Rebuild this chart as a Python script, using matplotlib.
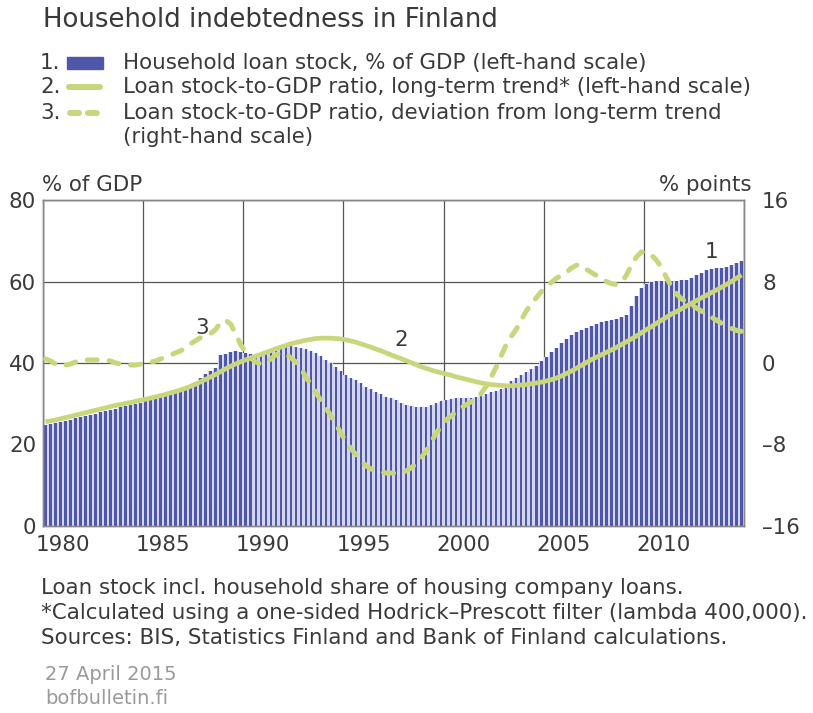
import numpy as np
import matplotlib
matplotlib.use("Agg")
import matplotlib.pyplot as plt
from matplotlib.lines import Line2D
from matplotlib.patches import Rectangle

# Quarterly data 1980Q1 - 2014Q4
loan_stock = [
    24.8, 25.0, 25.2, 25.5,  25.8, 26.1, 26.4, 26.7,  27.0, 27.3, 27.6, 27.9,
    28.2, 28.5, 28.8, 29.1,  29.4, 29.7, 30.0, 30.3,  30.7, 31.0, 31.3, 31.6,
    32.0, 32.5, 33.0, 33.5,  34.0, 34.6, 35.4, 36.3,  37.2, 38.0, 38.7, 42.0,
    42.3, 42.7, 42.9, 42.8,  42.5, 42.3, 42.2, 42.4,  42.8, 43.3, 43.8, 44.2,
    44.4, 44.3, 44.0, 43.8,  43.5, 43.0, 42.4, 41.6,  40.8, 40.0, 39.1, 38.1,
    37.1, 36.4, 35.8, 35.0,  34.2, 33.6, 33.0, 32.3,  31.7, 31.3, 30.9, 30.3,
    29.7, 29.4, 29.1, 29.1,  29.3, 29.6, 30.2, 30.6,  30.9, 31.1, 31.3, 31.3,
    31.3, 31.5, 31.7, 32.0,  32.4, 32.8, 33.2, 33.7,  34.2, 35.5, 36.2, 37.0,
    37.9, 38.6, 39.3, 40.4,  41.4, 42.6, 43.8, 45.0,  46.0, 46.8, 47.5, 48.1,
    48.7, 49.2, 49.6, 50.0,  50.3, 50.6, 50.9, 51.3,  51.8, 54.0, 56.4, 58.4,
    59.3, 60.0, 60.2, 60.2,  60.2, 60.2, 60.2, 60.3,  60.4, 60.9, 61.5, 62.2,
    62.7, 63.0, 63.2, 63.3,  63.6, 64.0, 64.5, 65.0,
]

trend = [
    25.6, 25.8, 26.0, 26.3,  26.6, 26.9, 27.2, 27.5,  27.8, 28.1, 28.4, 28.7,
    29.0, 29.3, 29.6, 29.8,  30.1, 30.3, 30.6, 30.9,  31.1, 31.4, 31.7, 32.0,
    32.3, 32.7, 33.0, 33.4,  33.8, 34.3, 34.8, 35.4,  36.0, 36.6, 37.2, 37.9,
    38.6, 39.2, 39.8, 40.3,  40.8, 41.2, 41.7, 42.1,  42.6, 43.0, 43.5, 43.9,
    44.3, 44.7, 45.0, 45.3,  45.6, 45.8, 46.0, 46.1,  46.1, 46.1, 46.0, 45.9,
    45.7, 45.4, 45.1, 44.7,  44.3, 43.9, 43.4, 43.0,  42.5, 42.0, 41.5, 41.1,
    40.6, 40.1, 39.6, 39.1,  38.7, 38.3, 37.9, 37.6,  37.3, 37.0, 36.6, 36.3,
    36.0, 35.7, 35.4, 35.1,  34.9, 34.7, 34.6, 34.5,  34.4, 34.4, 34.5, 34.6,
    34.7, 34.9, 35.1, 35.3,  35.6, 35.9, 36.3, 36.8,  37.4, 38.0, 38.7, 39.4,
    40.1, 40.8, 41.4, 42.0,  42.6, 43.2, 43.8, 44.5,  45.2, 45.9, 46.6, 47.4,
    48.2, 48.9, 49.7, 50.5,  51.2, 52.0, 52.6, 53.3,  54.0, 54.6, 55.3, 56.0,
    56.6, 57.3, 57.9, 58.6,  59.3, 60.0, 60.8, 61.6,
]

deviation = [
    0.4, 0.2, -0.1, -0.2,  -0.2, -0.1, 0.1, 0.3,  0.3, 0.3, 0.3, 0.3,
    0.3, 0.2, 0.0, -0.1,  -0.2, -0.2, -0.2, -0.1,  0.0, 0.1, 0.2, 0.4,
    0.6, 0.8, 1.0, 1.2,  1.5, 1.9, 2.2, 2.5,  2.7, 2.9, 3.3, 4.0,
    4.2, 3.8, 2.8, 1.8,  1.0, 0.5, 0.1, -0.1,  0.0, 0.4, 0.8, 1.0,
    0.9, 0.5, 0.1, -0.5,  -1.4, -2.1, -2.9, -3.7,  -4.4, -5.2, -6.0, -6.9,
    -7.7, -8.4, -9.0, -9.5,  -10.1, -10.4, -10.6, -10.7,  -10.8, -10.8, -10.8, -10.8,
    -10.6, -10.3, -9.9, -9.3,  -8.7, -7.8, -6.9, -6.2,  -5.6, -5.2, -4.8, -4.4,
    -4.1, -3.8, -3.5, -3.0,  -2.3, -1.4, -0.4, 0.7,  1.8, 2.6, 3.3, 4.2,
    5.1, 5.8, 6.4, 7.0,  7.4, 7.9, 8.3, 8.6,  8.9, 9.3, 9.6, 9.6,
    9.2, 8.9, 8.6, 8.3,  8.0, 7.8, 7.7, 7.9,  8.6, 9.6, 10.4, 10.9,
    10.9, 10.6, 10.1, 9.4,  8.4, 7.5, 6.8, 6.3,  6.0, 5.7, 5.4, 5.1,
    4.8, 4.5, 4.2, 3.9,  3.6, 3.4, 3.2, 3.1,
]

years = [1980, 1985, 1990, 1995, 2000, 2005, 2010]
left_ticks = [0, 20, 40, 60, 80]
right_ticks = [-16, -8, 0, 8, 16]

legend_labels = [
    "Household loan stock, % of GDP (left-hand scale)",
    "Loan stock-to-GDP ratio, long-term trend* (left-hand scale)",
    "Loan stock-to-GDP ratio, deviation from long-term trend\n(right-hand scale)",
]
footer = ("Loan stock incl. household share of housing company loans.\n"
          "*Calculated using a one-sided Hodrick\u2013Prescott filter (lambda 400,000).\n"
          "Sources: BIS, Statistics Finland and Bank of Finland calculations.")

plt.rcParams["font.family"] = "DejaVu Sans"

TXT = "#3a3a3a"
BAR = "#4f57a9"
BAR_BG = "#d3d6ee"
GREEN = "#c9d67c"
FS = 15.4

W, H = 813, 713
fig = plt.figure(figsize=(W / 100, H / 100), dpi=100)

def fx(px):
    return px / W

def fy(py):
    return 1 - py / H

ax = fig.add_axes([fx(43), fy(526), fx(744) - fx(43), fy(200) - fy(526)])
ax2 = ax.twinx()

x = 1980 + np.arange(len(loan_stock)) * 0.25 + 0.125
ax.bar(x, loan_stock, width=0.25, color=BAR_BG, linewidth=0, zorder=2)
ax.bar(x, loan_stock, width=0.13, color=BAR, linewidth=0, zorder=2)
ax.plot(x, trend, color=GREEN, lw=3.4, solid_capstyle="butt", zorder=4)
ax2.plot(x, deviation, color=GREEN, lw=3.6, dashes=(2.0, 2.4),
         dash_capstyle="round", zorder=4)

ax.set_xlim(1980, 2015)
ax.set_ylim(0, 80)
ax2.set_ylim(-16, 16)
ax.set_xticks(years + [2015])
ax.set_xticklabels([])
ax.set_yticks(left_ticks)
ax.set_yticklabels([str(v) for v in left_ticks])
ax2.set_yticks(right_ticks)
ax2.set_yticklabels([str(v).replace("-", "\u2013") for v in right_ticks])
ax.grid(True, color="#555555", lw=0.9, zorder=1)
ax.set_axisbelow(True)
for a in (ax, ax2):
    a.tick_params(length=0, labelsize=FS, colors=TXT)
    for s in a.spines.values():
        s.set_color("#888888")
        s.set_linewidth(1.0)
ax.tick_params(axis="y", pad=5)
ax2.tick_params(axis="y", pad=13)
ax2.set_zorder(ax.get_zorder() + 1)
ax2.patch.set_visible(False)

# year labels sit right of the grid lines
for yr in years:
    ax.text(yr + 1.0, -2.3, str(yr), ha="center", va="top", fontsize=FS, color=TXT)

ax.text(-0.002, 1.015, "% of GDP", transform=ax.transAxes, fontsize=FS,
        color=TXT, ha="left", va="bottom")
ax.text(1.011, 1.015, "% points", transform=ax.transAxes, fontsize=FS,
        color=TXT, ha="right", va="bottom")

# series numbers
ax.text(1987.95, 48.6, "3", fontsize=FS, color=TXT, ha="center", va="center")
ax.text(1997.9, 45.6, "2", fontsize=FS, color=TXT, ha="center", va="center")
ax.text(2013.4, 67.2, "1", fontsize=FS, color=TXT, ha="center", va="center")

# title and legend
fig.text(fx(43), fy(20), "Household indebtedness in Finland", fontsize=18.7,
         color=TXT, va="center", ha="left")
for i, ry in enumerate([63, 87, 113]):
    fig.text(fx(40), fy(ry), f"{i + 1}.", fontsize=FS, color=TXT, va="center")
fig.text(fx(123), fy(63), legend_labels[0], fontsize=FS, color=TXT, va="center")
fig.text(fx(123), fy(87), legend_labels[1], fontsize=FS, color=TXT, va="center")
line3a, line3b = legend_labels[2].split("\n")
fig.text(fx(123), fy(113), line3a, fontsize=FS, color=TXT, va="center")
fig.text(fx(123), fy(137), line3b, fontsize=FS, color=TXT, va="center")

fig.patches.append(Rectangle((fx(67), fy(69)), fx(36), fy(57) - fy(69),
                             transform=fig.transFigure, color=BAR, figure=fig))
fig.lines.append(Line2D([fx(69), fx(100)], [fy(87), fy(87)], transform=fig.transFigure,
                        color=GREEN, lw=4.3, solid_capstyle="round", figure=fig))
fig.lines.append(Line2D([fx(70), fx(98)], [fy(113), fy(113)], transform=fig.transFigure,
                        color=GREEN, lw=4.3, dashes=(1.5, 1.5), dash_capstyle="round",
                        figure=fig))

fig.text(fx(41), fy(578), footer, fontsize=FS, color=TXT, va="top", ha="left",
         linespacing=1.3)
fig.text(fx(45), fy(675), "27 April 2015", fontsize=14, color="#9a9a9a", va="center")
fig.text(fx(45), fy(699), "bofbulletin.fi", fontsize=14, color="#9a9a9a", va="center")

fig.savefig("out.png", dpi=100)
